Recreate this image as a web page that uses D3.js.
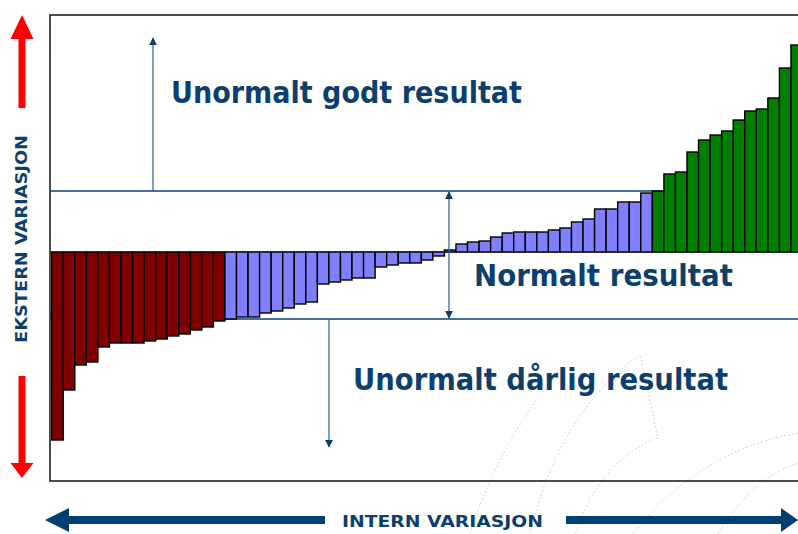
<!DOCTYPE html>
<html>
<head>
<meta charset="utf-8">
<script src="https://cdn.jsdelivr.net/npm/d3@7"></script>
<style>
  body { margin: 0; background: #fff; }
  svg { display: block; }
  .label { font-family: "DejaVu Sans", sans-serif; font-weight: bold; fill: #0d3f6e; }
</style>
</head>
<body>
<div id="chartbox"></div>
<script>
// values, sorted from worst to best
const redValues = [-1.88, -1.38, -1.13, -1.10, -0.95, -0.91, -0.91, -0.91, -0.89, -0.87, -0.84, -0.82, -0.78, -0.75, -0.69]
const blueValues = [-0.67, -0.65, -0.65, -0.61, -0.59, -0.56, -0.52, -0.50, -0.32, -0.30, -0.28, -0.26, -0.26, -0.15, -0.13, -0.11, -0.11, -0.08, -0.04, 0.02,
  0.08, 0.10, 0.11, 0.15, 0.19, 0.20, 0.20, 0.20, 0.22, 0.24, 0.30, 0.33, 0.43, 0.43, 0.50, 0.50, 0.59]
const greenValues = [0.61, 0.78, 0.80, 1.00, 1.12, 1.17, 1.21, 1.32, 1.41, 1.43, 1.54, 1.84, 2.07]

const upperLimit = 0.61
const lowerLimit = -0.67
const yDomain = [-2.29, 2.37]

const groups = [
  { name: 'daarlig', color: '#800000', values: redValues },
  { name: 'normal', color: '#8080ff', values: blueValues },
  { name: 'godt', color: '#008000', values: greenValues }
]

const navy = '#0d3f6e'
const W = 798, H = 534
const frameLeft = 50, frameTop = 15, frameBottom = 481

const svg = d3.select('#chartbox')
  .append('svg')
  .attr('width', W)
  .attr('height', H)

const bars = []
groups.forEach(g => g.values.forEach(v => bars.push({ value: v, color: g.color })))

const x = d3.scaleBand()
  .domain(d3.range(bars.length))
  .range([51.7, 802.5])
  .padding(0)

const y = d3.scaleLinear()
  .domain(yDomain)
  .range([frameBottom, frameTop])

// faint watermark arcs
const wm = svg.append('g')
  .attr('fill', 'none')
  .attr('stroke', '#b9c9d9')
  .attr('stroke-width', 1)
  .attr('stroke-dasharray', '1.5,2.5')
const wmPaths = [
  'M530,534 Q560,410 640,355 L658,438 Q600,460 575,534',
  'M633,534 Q700,450 798,433',
  'M718,534 Q750,480 798,463',
  'M470,534 Q500,440 560,370'
]
wm.selectAll('path').data(wmPaths).enter().append('path').attr('d', d => d)

// frame
svg.append('path')
  .attr('d', `M${W + 2},${frameTop} H${frameLeft} V${frameBottom} H${W + 2}`)
  .attr('fill', 'none')
  .attr('stroke', '#111')
  .attr('stroke-width', 1.5)

// threshold lines
svg.selectAll('line.limit')
  .data([upperLimit, lowerLimit])
  .enter()
  .append('line')
  .attr('class', 'limit')
  .attr('x1', frameLeft)
  .attr('x2', W)
  .attr('y1', d => y(d))
  .attr('y2', d => y(d))
  .attr('stroke', navy)
  .attr('stroke-width', 1.3)

// zero line
svg.append('line')
  .attr('x1', frameLeft).attr('x2', W)
  .attr('y1', y(0)).attr('y2', y(0))
  .attr('stroke', '#333')
  .attr('stroke-width', 1)

// bars
svg.selectAll('rect.bar')
  .data(bars)
  .enter()
  .append('rect')
  .attr('class', 'bar')
  .attr('x', (d, i) => x(i))
  .attr('width', x.bandwidth())
  .attr('y', d => y(Math.max(0, d.value)))
  .attr('height', d => Math.abs(y(d.value) - y(0)))
  .attr('fill', d => d.color)
  .attr('stroke', '#000')
  .attr('stroke-width', 1.4)

// thin arrows
const defs = svg.append('defs')
defs.append('marker')
  .attr('id', 'head')
  .attr('viewBox', '0 0 10 10')
  .attr('refX', 9).attr('refY', 5)
  .attr('markerWidth', 8).attr('markerHeight', 8)
  .attr('markerUnits', 'userSpaceOnUse')
  .attr('orient', 'auto-start-reverse')
  .append('path')
  .attr('d', 'M0,0 L10,5 L0,10 Z')
  .attr('fill', navy)

const arrows = [
  { x: 153, y1: y(upperLimit), y2: 38, start: false },
  { x: 449, y1: y(upperLimit) + 1, y2: y(lowerLimit) - 1, start: true },
  { x: 329, y1: y(lowerLimit), y2: 447, start: false }
]
svg.selectAll('line.arrow')
  .data(arrows)
  .enter()
  .append('line')
  .attr('class', 'arrow')
  .attr('x1', d => d.x).attr('x2', d => d.x)
  .attr('y1', d => d.y1).attr('y2', d => d.y2)
  .attr('stroke', '#2a5b8a')
  .attr('stroke-width', 1.2)
  .attr('marker-end', 'url(#head)')
  .attr('marker-start', d => d.start ? 'url(#head)' : null)

// region labels
const labels = [
  { text: 'Unormalt godt resultat', x: 171, y: 103, len: 351 },
  { text: 'Normalt resultat', x: 474, y: 286, len: 259 },
  { text: 'Unormalt dårlig resultat', x: 353, y: 390, len: 375 }
]
svg.selectAll('text.region')
  .data(labels)
  .enter()
  .append('text')
  .attr('class', 'label region')
  .attr('x', d => d.x)
  .attr('y', d => d.y)
  .attr('font-size', 31)
  .attr('textLength', d => d.len)
  .attr('lengthAdjust', 'spacingAndGlyphs')
  .text(d => d.text)

// vertical axis: red arrows + label
const red = svg.append('g').attr('fill', '#ff0000')
red.append('path').attr('d', 'M18.5,108 V39 H10.5 L22,15 L33.5,39 H25.5 V108 Z')
red.append('path').attr('d', 'M18.5,376 V463 H10.5 L22,478 L33.5,463 H25.5 V376 Z')

svg.append('text')
  .attr('class', 'label')
  .attr('transform', 'translate(27,239) rotate(-90)')
  .attr('text-anchor', 'middle')
  .attr('font-size', 16)
  .attr('textLength', 208)
  .attr('lengthAdjust', 'spacingAndGlyphs')
  .text('EKSTERN VARIASJON')

// horizontal axis: navy double arrow + label
const ax = svg.append('g').attr('fill', '#003f73')
ax.append('path').attr('d', 'M45,520 L69,508 V516 H325 V524 H69 V532 Z')
ax.append('path').attr('d', 'M798,520 L781,508 V516 H566 V524 H781 V532 Z')

svg.append('text')
  .attr('class', 'label')
  .attr('x', 342)
  .attr('y', 527)
  .attr('font-size', 16)
  .attr('textLength', 201)
  .attr('lengthAdjust', 'spacingAndGlyphs')
  .text('INTERN VARIASJON')
</script>
</body>
</html>
